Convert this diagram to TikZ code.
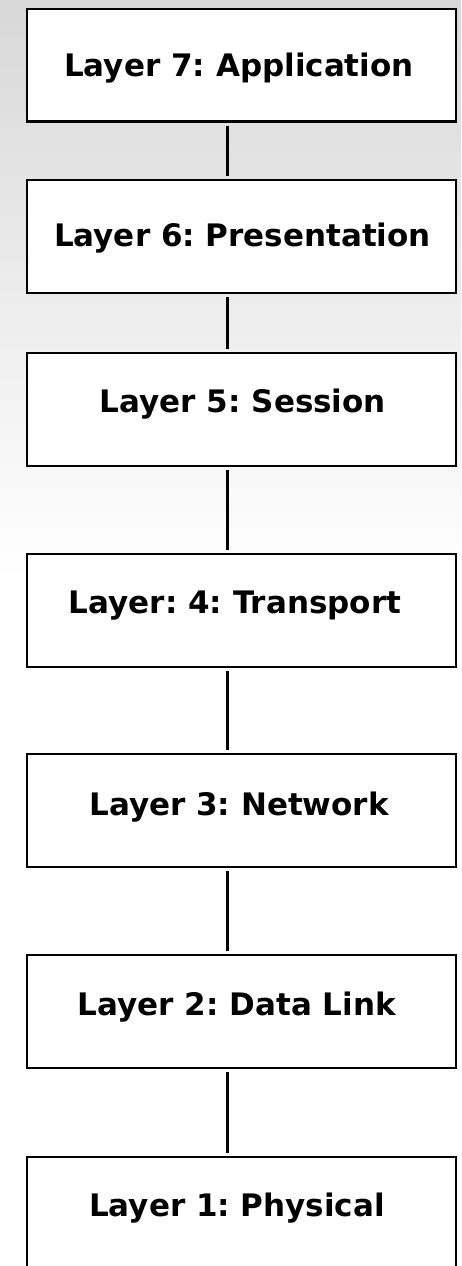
\documentclass[tikz,border=0pt]{standalone}
\usepackage{fontspec}
\setmainfont{DejaVu Sans}
\frenchspacing
\usetikzlibrary{calc}
\definecolor{bgtop}{HTML}{D8D8D8}
\begin{document}
\begin{tikzpicture}[x=1pt,y=-1pt,
  layerbox/.style={draw=black, line width=2.4pt, fill=white, minimum width=428.6pt, minimum height=112.6pt, inner sep=0pt, outer sep=1.2pt},
  layertext/.style={anchor=base, inner sep=0pt, font=\fontsize{31}{37}\selectfont\bfseries},
  link/.style={line width=2.4pt, shorten >=3pt, shorten <=3pt}]
\useasboundingbox (0,0) rectangle (461,1266);
\fill[white] (0,0) rectangle (461,1266);
\shade[top color=bgtop, bottom color=white] (0,0) rectangle (461,580);
\begin{scope}
\clip (0,0) rectangle (461,1266);
\node[layerbox] (b7) at (241.5,65) {};
\node[layerbox] (b6) at (241.5,236.5) {};
\node[layerbox] (b5) at (241.5,409.5) {};
\node[layerbox] (b4) at (241.5,610.5) {};
\node[layerbox] (b3) at (241.5,810.5) {};
\node[layerbox] (b2) at (241.5,1011.5) {};
\node[layerbox] (b1) at (241.5,1213.5) {};
\end{scope}
\node[layertext] (t7) at (239,76) {Layer 7: Application};
\node[layertext] (t6) at (242.5,246.7) {Layer 6: Presentation};
\node[layertext] (t5) at (243,412.3) {Layer 5: Session};
\node[layertext] (t4) at (235,613.3) {Layer: 4: Transport};
\node[layertext] (t3) at (239,815) {Layer 3: Network};
\node[layertext] (t2) at (237,1015) {Layer 2: Data Link};
\node[layertext] (t1) at (237,1216.7) {Layer 1: Physical};
\draw[link] ($(b7.south)+(-14,0)$) -- ($(b6.north)+(-14,0)$);
\draw[link] ($(b6.south)+(-14,0)$) -- ($(b5.north)+(-14,0)$);
\draw[link] ($(b5.south)+(-14,0)$) -- ($(b4.north)+(-14,0)$);
\draw[link] ($(b4.south)+(-14,0)$) -- ($(b3.north)+(-14,0)$);
\draw[link] ($(b3.south)+(-14,0)$) -- ($(b2.north)+(-14,0)$);
\draw[link] ($(b2.south)+(-14,0)$) -- ($(b1.north)+(-14,0)$);
\end{tikzpicture}
\end{document}
